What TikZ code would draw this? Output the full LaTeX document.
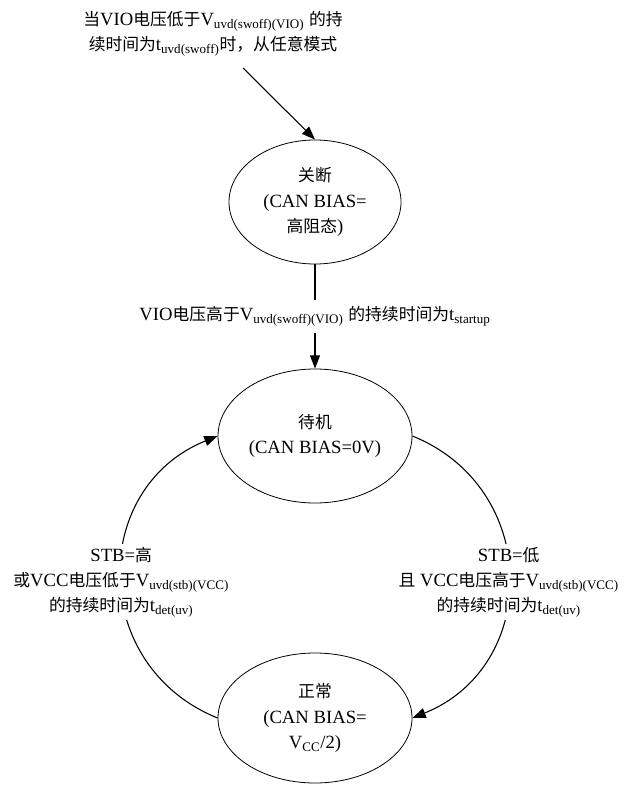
\documentclass[tikz,border=0pt]{standalone}
\usepackage{fontspec}
\setmainfont{Liberation Serif}
\newfontfamily\cjk[Scale=0.9]{Noto Sans CJK SC}
\usepackage{tikz}
\usetikzlibrary{shapes.geometric,arrows.meta}
\newcommand{\zh}[1]{{\cjk #1}}
\newcommand{\subtxt}[1]{\textsubscript{#1}}

\begin{document}
\begin{tikzpicture}[x=0.75pt,y=0.75pt,
  txt/.style={font=\fontsize{14}{19}\selectfont,align=center},
  state/.style={txt,draw,ellipse,line width=0.6pt,inner sep=0pt},
  cond/.style={txt,fill=white,inner sep=2pt},
  arr/.style={line width=0.8pt,-{Triangle[length=10pt,width=7.5pt]}}]
\useasboundingbox (0,0) rectangle (626,-787);

% entry condition
\node[txt] (top) at (213,-34)
  {\zh{当}VIO\zh{电压低于}V\subtxt{uvd(swoff)(VIO)} \zh{的持}\\
   \zh{续时间为}t\subtxt{uvd(swoff)}\zh{时，从任意模式}};
\coordinate (from) at (243,-68);

% states
\node[state,minimum width=129pt,minimum height=93pt] (off) at (315,-202)
  {\zh{关断}\\(CAN BIAS=\\\zh{高阻态})};
\node[state,minimum width=145.5pt,minimum height=100.5pt] (standby) at (315,-436)
  {\zh{待机}\\(CAN BIAS=0V)};
\node[state,minimum width=145.5pt,minimum height=97.5pt] (normal) at (315,-718)
  {\zh{正常}\\(CAN BIAS=\\V\subtxt{CC}/2)};

% transitions
\draw[arr] (from) -- (off.north);
\draw[arr] (off) -- node[cond,inner ysep=5pt]
  {VIO\zh{电压高于}V\subtxt{uvd(swoff)(VIO)} \zh{的持续时间为}t\subtxt{startup}} (standby);
\draw[arr] (normal.west) to[out=158,in=202,looseness=1.26] node[cond,yshift=-4pt]
  {STB=\zh{高}\\\zh{或}VCC\zh{电压低于}V\subtxt{uvd(stb)(VCC)}\\\zh{的持续时间为}t\subtxt{det(uv)}} (standby.west);
\draw[arr] (standby.east) to[out=-22,in=22,looseness=1.26] node[cond,yshift=-4pt]
  {STB=\zh{低}\\\zh{且} VCC\zh{电压高于}V\subtxt{uvd(stb)(VCC)}\\\zh{的持续时间为}t\subtxt{det(uv)}} (normal.east);

\end{tikzpicture}
\end{document}
